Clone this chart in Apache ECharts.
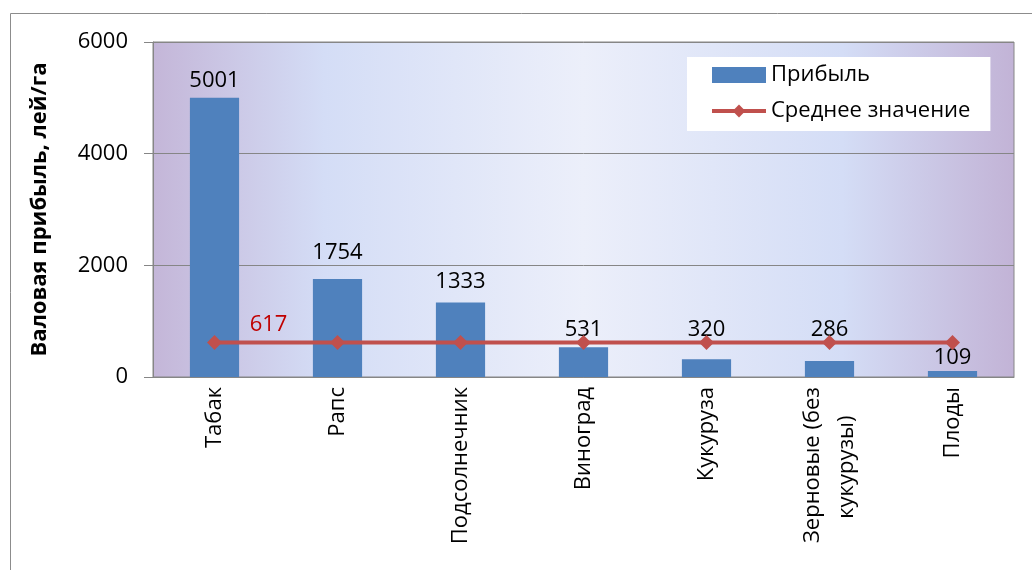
<!DOCTYPE html>
<html>
<head>
<meta charset="utf-8">
<script src="https://cdn.jsdelivr.net/npm/echarts@6/dist/echarts.min.js"></script>
<style>
html, body { margin: 0; padding: 0; background: #fff; }
#chart { width: 1032px; height: 570px; }
</style>
</head>
<body>
<div id="chart"></div>
<script>
// культуры
var crops = ['Табак', 'Рапс', 'Подсолнечник', 'Виноград', 'Кукуруза', 'Зерновые (без\nкукурузы)     ', 'Плоды'];
// прибыль, лей/га
var profit = [5001, 1754, 1333, 531, 320, 286, 109];
// среднее значение
var average = [617, 617, 617, 617, 617, 617, 617];

var font = 'Open Sans';
var gray = '#868686';

// подписи над столбиками сдвинуты вручную, как в оригинале (px по вертикали)
var labelNudge = { 0: -2, 1: -11, 2: -6, 3: -3, 4: -14, 5: -16, 6: 2 };

var myChart = echarts.init(document.getElementById('chart'));

var barData = profit.map(function (v, i) {
	return { value: v, label: { offset: [0, labelNudge[i] || 0] } };
});

var lineData = average.map(function (v, i) {
	if (i == 0) {
		return {
			value: v,
			label: { show: true, position: 'top', offset: [54, 6], color: '#C00000', fontSize: 22, fontFamily: font }
		};
	}
	return v;
});

var option = {
	animation: false,
	graphic: [{
		type: 'rect',
		shape: { x: 10.5, y: 13.5, width: 1100, height: 700 },
		style: { fill: 'none', stroke: '#8c8c8c', lineWidth: 1 },
		silent: true
	}],
	grid: {
		left: 153, right: 18, top: 42, bottom: 193,
		show: true,
		borderColor: gray,
		borderWidth: 1,
		backgroundColor: {
			type: 'linear', x: 0, y: 0, x2: 1, y2: 0,
			colorStops: [
				{ offset: 0, color: '#C4B6D8' },
				{ offset: 0.2, color: '#D4DDF6' },
				{ offset: 0.5, color: '#ECEFFA' },
				{ offset: 0.8, color: '#D4DDF6' },
				{ offset: 1, color: '#C2B3D6' }
			]
		}
	},
	legend: {
		orient: 'vertical',
		left: 687, top: 57,
		backgroundColor: '#fff',
		padding: [7, 20, 9, 23],
		itemGap: 14,
		itemWidth: 54,
		itemHeight: 16,
		textStyle: { fontFamily: font, fontSize: 22, color: '#000' },
		data: [
			{ name: 'Прибыль', icon: 'rect', itemStyle: { color: '#4F81BD' } },
			{ name: 'Среднее значение', lineStyle: { width: 4, color: '#C0504D' } }
		]
	},
	xAxis: {
		type: 'category',
		data: crops,
		axisLine: { lineStyle: { color: gray } },
		axisTick: { length: 9, lineStyle: { color: gray } },
		axisLabel: {
			rotate: 90, margin: 10, interval: 0,
			fontFamily: font, fontSize: 22, color: '#000', lineHeight: 34
		}
	},
	yAxis: {
		type: 'value',
		min: 0, max: 6000, interval: 2000,
		name: 'Валовая прибыль, лей/га',
		nameLocation: 'middle',
		nameGap: 102,
		nameTextStyle: { fontFamily: font, fontSize: 22, fontWeight: 'bold', color: '#000' },
		axisLine: { show: true, lineStyle: { color: gray } },
		axisTick: { show: true, length: 9, lineStyle: { color: gray } },
		axisLabel: {
			margin: 25, fontFamily: font, fontSize: 22, color: '#000',
			formatter: function (v) { return String(v); }
		},
		splitLine: { lineStyle: { color: gray } }
	},
	series: [
		{
			name: 'Прибыль',
			type: 'bar',
			data: barData,
			barWidth: '40%',
			itemStyle: { color: '#4F81BD' },
			label: { show: true, position: 'top', distance: 4, fontFamily: font, fontSize: 22, color: '#000' }
		},
		{
			name: 'Среднее значение',
			type: 'line',
			data: lineData,
			symbol: 'diamond',
			symbolSize: 15,
			lineStyle: { color: '#C0504D', width: 4 },
			itemStyle: { color: '#C0504D' },
			label: { show: false }
		}
	]
};

// 将配置应用到图表上
myChart.setOption(option);
</script>
</body>
</html>
